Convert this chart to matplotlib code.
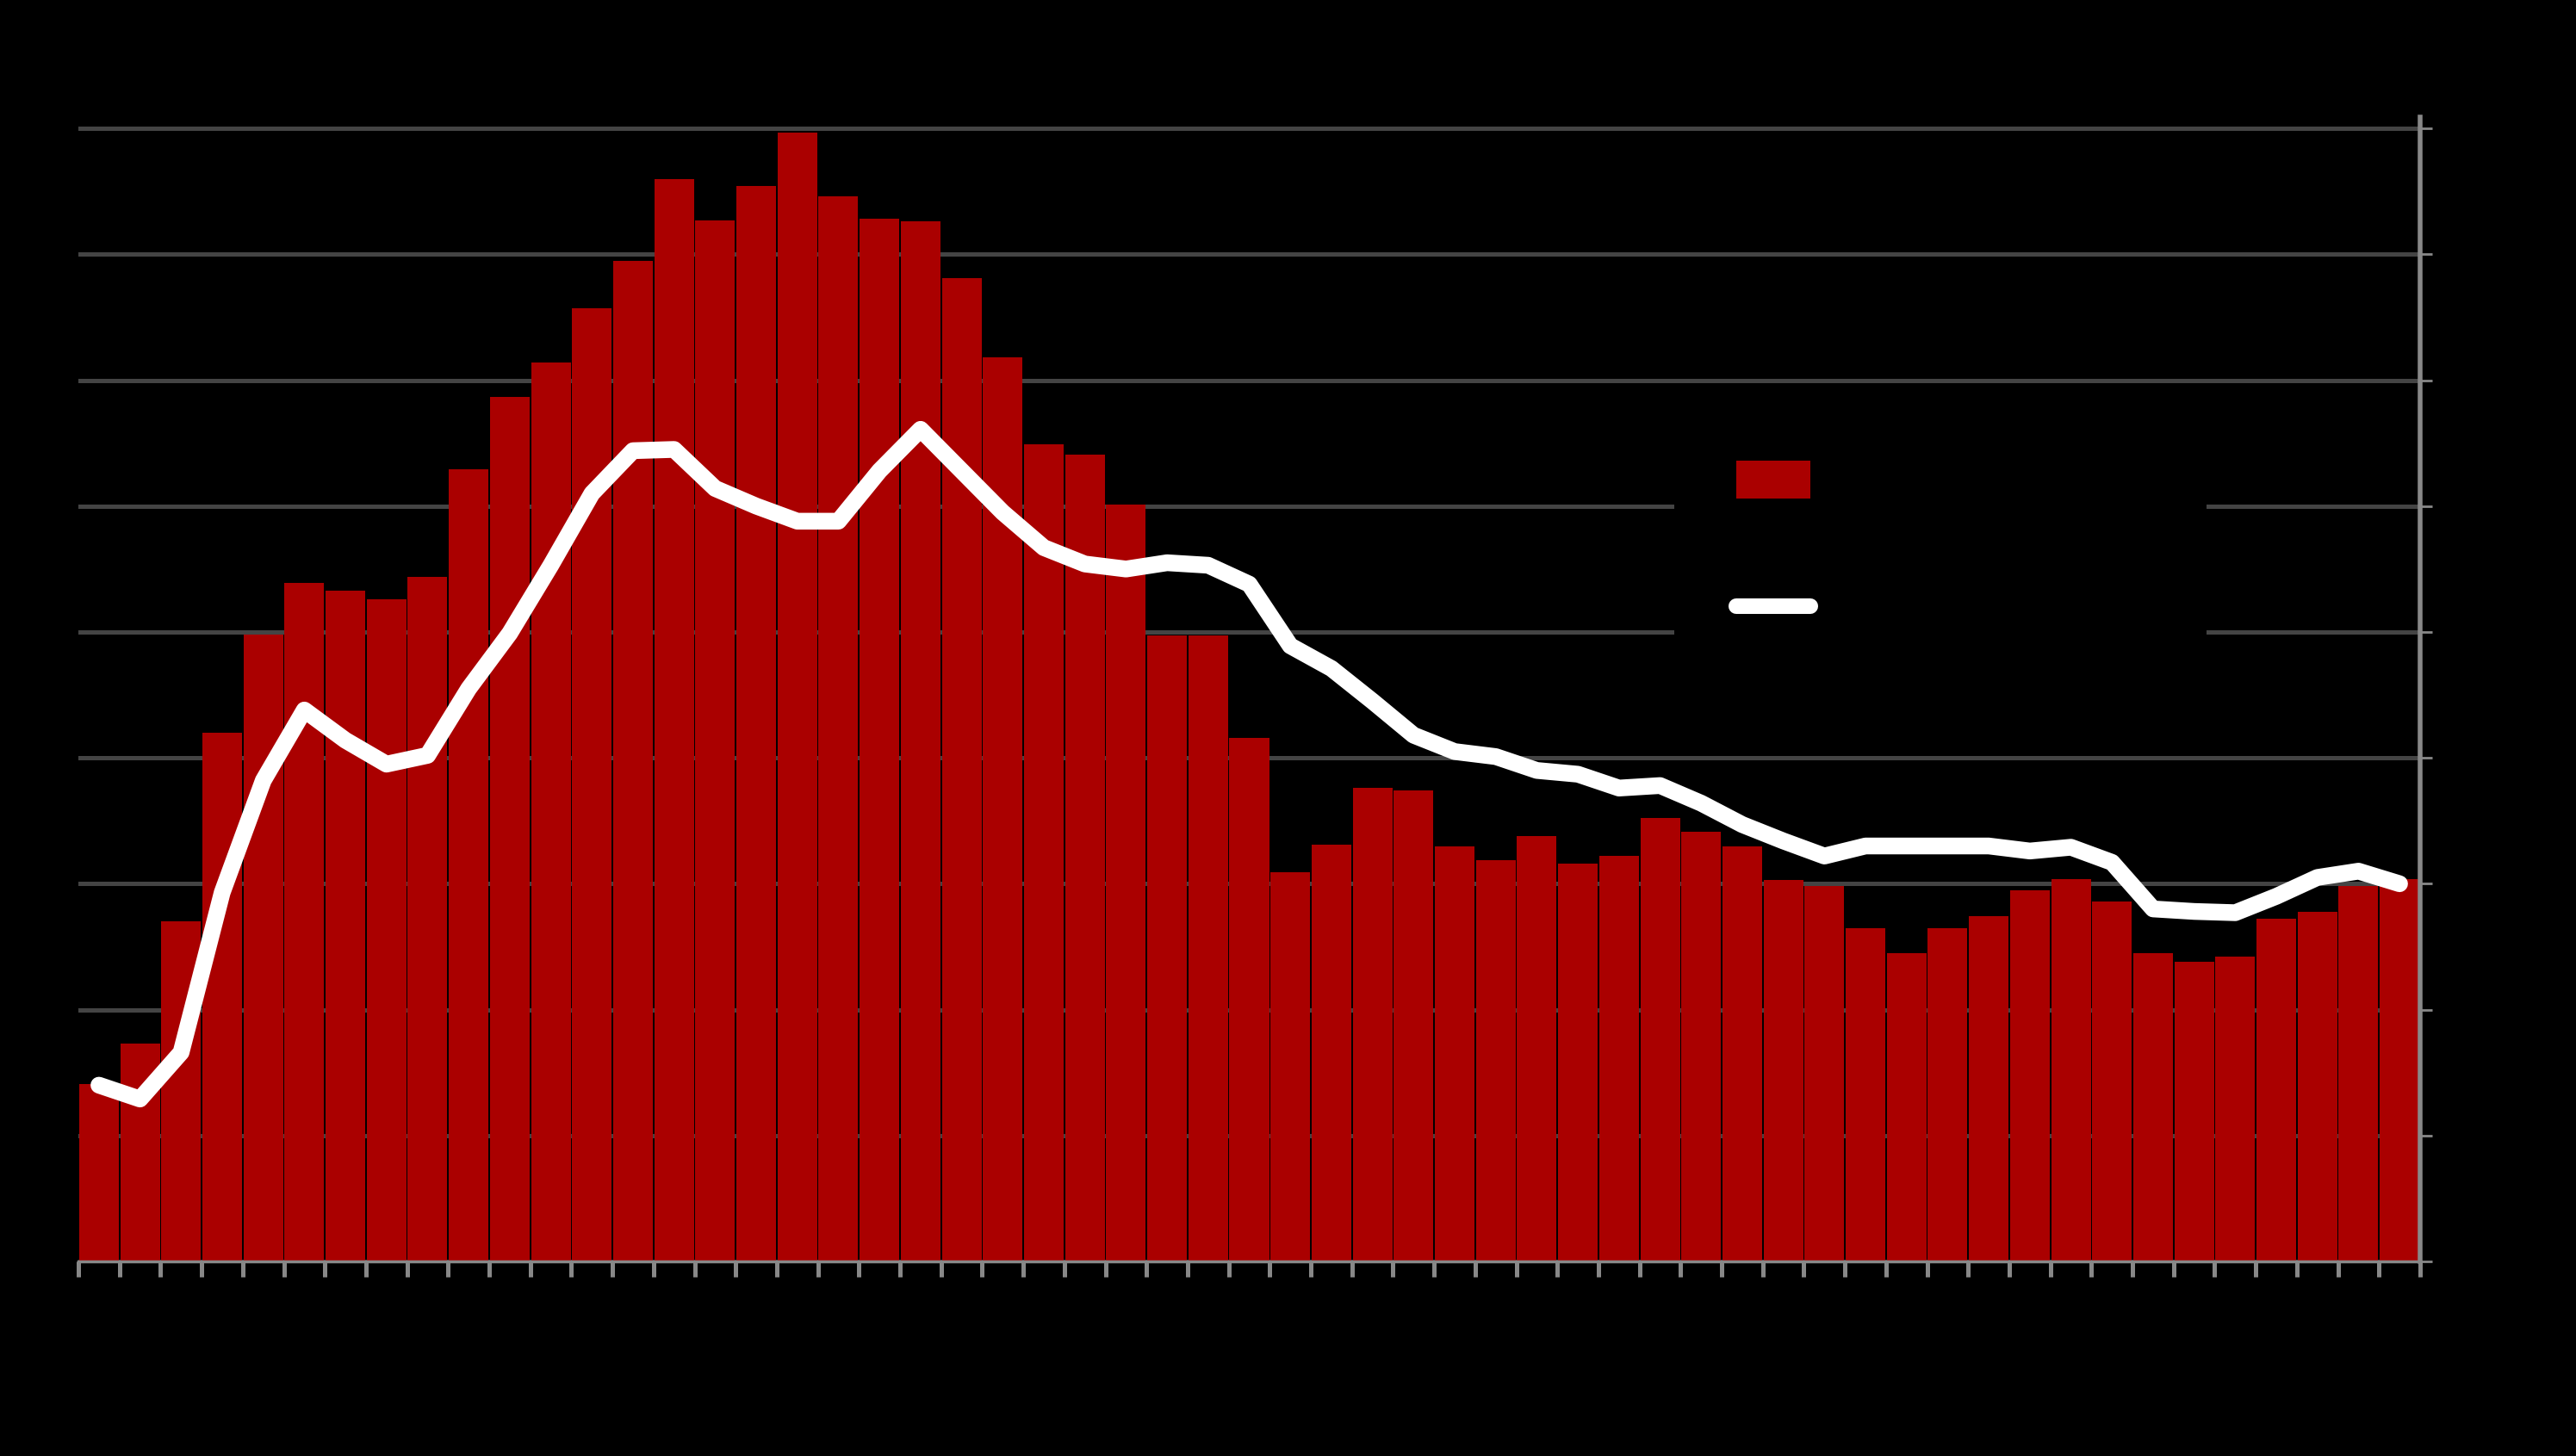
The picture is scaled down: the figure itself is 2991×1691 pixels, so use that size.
import matplotlib
matplotlib.use("Agg")
import matplotlib.pyplot as plt
import numpy as np
from matplotlib.patches import Patch
from matplotlib.lines import Line2D

# ---- data (units of 1/100 gridline step) ----
bar_values = [141, 173, 270, 420, 498, 539, 533, 526, 544, 629,
              687, 714, 757, 795, 860, 827, 854, 897, 846, 828,
              826, 781, 718, 649, 641, 601, 497, 497, 416, 309,
              331, 376, 374, 330, 319, 338, 316, 322, 352, 341,
              330, 303, 298, 265, 245, 265, 274, 295, 304, 286,
              245, 238, 242, 272, 278, 298, 304]
line_values = [140, 129, 166, 293, 382, 438, 414, 395, 402, 455,
               499, 553, 610, 644, 645, 614, 600, 588, 588, 628,
               661, 628, 595, 567, 554, 550, 555, 553, 538, 489,
               471, 445, 418, 405, 401, 390, 387, 376, 378, 364,
               347, 334, 322, 330, 330, 330, 330, 326, 329, 317,
               280, 278, 277, 290, 305, 310, 300]
y_ticks = [0, 100, 200, 300, 400, 500, 600, 700, 800, 900]
legend_labels = ["Annual", "Moving avg."]

BAR_COLOR = "#AA0000"
GRID_COLOR = "#444444"
AXIS_COLOR = "#888888"

fig = plt.figure(figsize=(29.91, 16.91), dpi=100)
fig.patch.set_facecolor("black")
ax = fig.add_axes([91 / 2991, 226 / 1691, (2810 - 91) / 2991, (1465 - 136) / 1691])
ax.set_facecolor("black")

n = len(bar_values)
x = np.arange(n) + 0.5
ax.bar(x, bar_values, width=0.965, color=BAR_COLOR, zorder=2, linewidth=0)
ax.plot(x, line_values, color="white", lw=14, solid_capstyle="round",
        solid_joinstyle="round", zorder=3)

ax.set_xlim(0, n)
ax.set_ylim(0, 909)
ax.set_yticks(y_ticks)
ax.set_xticks(np.arange(n + 1))
ax.yaxis.grid(True, color=GRID_COLOR, lw=3.6, zorder=0)
ax.set_axisbelow(True)

ax.yaxis.tick_right()
ax.tick_params(axis="y", which="both", direction="out", length=10, width=2,
               color=AXIS_COLOR, labelright=False, labelleft=False, left=False)
ax.tick_params(axis="x", which="both", direction="out", length=13, width=3.6,
               color=AXIS_COLOR, labelbottom=False)

for s in ["left", "top"]:
    ax.spines[s].set_visible(False)
ax.spines["right"].set_color(AXIS_COLOR)
ax.spines["right"].set_linewidth(4)
ax.spines["bottom"].set_color(AXIS_COLOR)
ax.spines["bottom"].set_linewidth(2.5)

handles = [Patch(facecolor=BAR_COLOR, edgecolor="none"),
           Line2D([0], [0], color="white", lw=13, solid_capstyle="round")]
leg = ax.legend(handles, legend_labels, loc="upper left",
                bbox_to_anchor=(1944 / 2991, 1 - 462 / 1691),
                bbox_transform=fig.transFigure, frameon=True,
                facecolor="black", edgecolor="none", framealpha=1,
                fontsize=40, labelcolor="black", handlelength=1.55,
                handleheight=0.86, labelspacing=1.70, borderpad=1.3,
                borderaxespad=0, fancybox=False, handletextpad=0.9)

fig.savefig("out.png", dpi=100, facecolor="black")
